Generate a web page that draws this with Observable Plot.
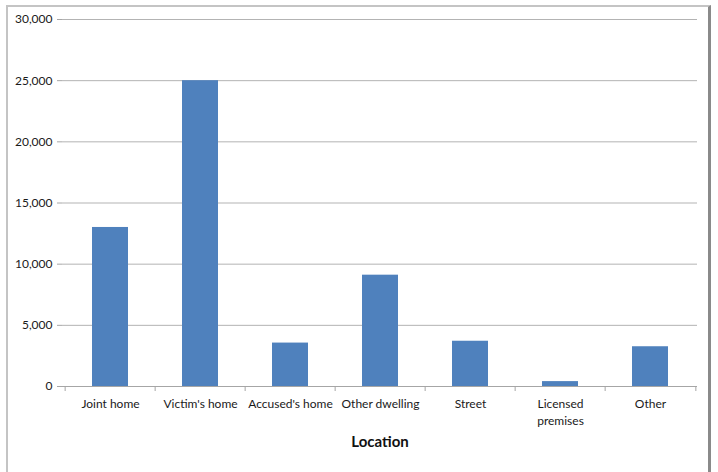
<!DOCTYPE html>
<html>
<head>
<meta charset="utf-8">
<script src="https://cdn.jsdelivr.net/npm/d3@7"></script>
<script src="https://cdn.jsdelivr.net/npm/@observablehq/plot@0.6"></script>
<style>
  html, body { margin: 0; padding: 0; background: #fff; overflow: hidden; }
  #wrap { position: relative; width: 718px; height: 472px; overflow: hidden; }
  #frame { position: absolute; left: 6px; top: 5px; width: 700px; height: 490px;
           border-top: 2px solid #c4c4c4; border-left: 2px solid #c4c4c4; border-right: 3px solid #8a8a8a; }
  #chart { position: absolute; left: 0; top: 0; }
</style>
</head>
<body>
<div id="wrap"><div id="frame"></div><div id="chart"></div></div>
<script>
const locations = ["Joint home", "Victim's home", "Accused's home", "Other dwelling", "Street", "Licensed premises", "Other"];
const counts = [13000, 25000, 3550, 9100, 3700, 400, 3250];
const yTicks = [0, 5000, 10000, 15000, 20000, 25000, 30000];
const xTitle = "Location";

const data = locations.map((loc, i) => ({loc, value: counts[i]}));

const W = 718, H = 472;
const mL = 62, mR = 21, mT = 19, mB = 86;
const step = (W - mL - mR) / locations.length;
const fmt = d3.format(",");

const chart = Plot.plot({
  width: W,
  height: H,
  marginLeft: mL,
  marginRight: mR,
  marginTop: mT,
  marginBottom: mB,
  style: {fontFamily: "Lato, 'Open Sans', sans-serif", fontSize: "12px", color: "#1a1a1a", background: "transparent"},
  x: {domain: locations, paddingInner: 0.6, paddingOuter: 0.3},
  y: {domain: [0, 30000]},
  marks: [
    Plot.gridY(yTicks, {stroke: "#b3b3b3", strokeOpacity: 1, strokeWidth: 1}),
    Plot.barY(data, {x: "loc", y: "value", fill: "#4f81bd"}),
    Plot.ruleY([0], {stroke: "#a6a6a6", strokeWidth: 1}),
    Plot.ruleX(locations, {x: d => d, y1: 0, y2: 0, dx: -step / 2, insetBottom: -5, stroke: "#a6a6a6"}),
    Plot.ruleX([locations[locations.length - 1]], {x: d => d, y1: 0, y2: 0, dx: step / 2, insetBottom: -5, stroke: "#a6a6a6"}),
    Plot.ruleX([0], {x: () => 0, y1: 0, y2: 30000, stroke: "#a6a6a6", dx: 0, render: (i, s, v, d, c, next) => {
      const g = next(i, s, v, d, c);
      d3.select(g).selectAll("line").attr("x1", mL + 0.5).attr("x2", mL + 0.5);
      return g;
    }}),
    Plot.axisY(yTicks, {tickFormat: fmt, tickSize: 5, tickPadding: 5, stroke: "#a6a6a6", label: null, fontSize: 12}),
    Plot.axisX({tickSize: 0, tickPadding: 10, label: null, fontSize: 12, lineHeight: 1.4,
      tickFormat: d => d === "Licensed premises" ? "Licensed\npremises" : d}),
    Plot.text([xTitle], {frameAnchor: "bottom", dy: 60, text: d => d, fontWeight: "bold", fontSize: 15, fill: "#111"})
  ]
});
document.getElementById("chart").appendChild(chart);
</script>
</body>
</html>
